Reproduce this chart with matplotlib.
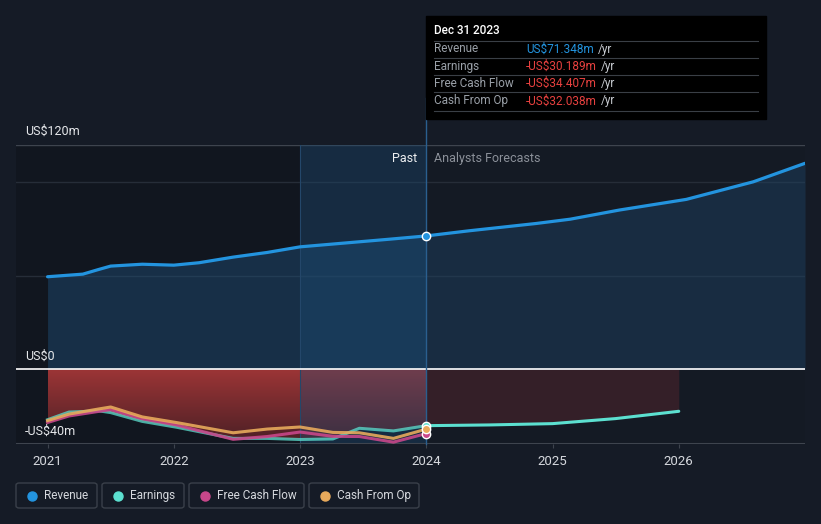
import matplotlib.pyplot as plt
import numpy as np
from matplotlib.colors import LinearSegmentedColormap
from matplotlib.patches import FancyBboxPatch, Rectangle
from matplotlib.lines import Line2D

plt.rcParams['font.family'] = ['Roboto', 'DejaVu Sans']

# Revenue (US$m), past and analyst forecast
rev_past_x = [2021.0, 2021.28, 2021.4, 2021.5, 2021.75, 2022.0, 2022.2, 2022.47, 2022.74, 2023.0, 2023.26, 2023.71, 2024.0]
rev_past_y = [49.5, 50.9, 53.3, 55.2, 56.2, 55.7, 57.0, 60.0, 62.5, 65.5, 67.0, 69.6, 71.35]
rev_fc_x = [2024.0, 2024.34, 2024.87, 2025.14, 2025.53, 2026.06, 2026.59, 2027.0]
rev_fc_y = [71.35, 74.1, 78.0, 80.3, 85.2, 90.9, 100.3, 110.2]

# Earnings / cash flows (US$m)
neg_x = [2021.0, 2021.17, 2021.41, 2021.5, 2021.75, 2022.02, 2022.47, 2022.74, 2023.0, 2023.26, 2023.47, 2023.74, 2024.0]
earn_y = [-27.0, -22.9, -22.3, -23.2, -27.9, -31.0, -37.0, -37.0, -37.6, -37.3, -31.6, -33.0, -30.19]
fcf_y = [-28.5, -25.0, -22.5, -21.6, -26.5, -29.8, -37.5, -36.0, -33.6, -35.9, -36.0, -39.0, -34.41]
cfo_y = [-27.5, -24.0, -21.2, -20.2, -25.5, -28.5, -34.0, -32.0, -30.9, -33.8, -34.0, -37.0, -32.04]
earn_fc_x = [2024.0, 2024.5, 2025.0, 2025.5, 2026.0]
earn_fc_y = [-30.19, -29.8, -29.1, -26.4, -22.5]

years = [2021, 2022, 2023, 2024, 2025, 2026]

BG = '#151b26'
C_REV = '#2394df'
C_EARN = '#5ce0d0'
C_FCF = '#c8478a'
C_CFO = '#e8aa5c'

fig = plt.figure(figsize=(8.21, 5.24), dpi=100, facecolor=BG)
ax = fig.add_axes([16 / 821, 80 / 524, 789 / 821, 299 / 524])
ax.set_facecolor('#141a24')

# darker past region and highlighted last year
ax.axvspan(2020.75, 2023.0, color='#0c1016', alpha=0.35, lw=0, zorder=0)
ax.axvspan(2023.0, 2024.0, color='#1a4d78', alpha=0.35, lw=0, zorder=4)
ax.axvline(2023.0, color='#24476a', lw=0.8, zorder=4)

# grid
for v in [50, 100]:
    ax.axhline(v, color='#262d38', lw=1, zorder=1)
ax.axhline(120, color='#3e444e', lw=1, zorder=1)

# revenue area
ax.fill_between(rev_past_x, 0, rev_past_y, color='#1f4f78', alpha=0.45, lw=0, zorder=2)
ax.fill_between(rev_fc_x, 0, rev_fc_y, color='#1f4466', alpha=0.45, lw=0, zorder=2)

# red gradient for past losses
poly = ax.fill_between(neg_x, 0, earn_y, color='none', lw=0, zorder=3)
cmap = LinearSegmentedColormap.from_list('red', ['#4a1f25', '#9c3536'])
grad = np.linspace(0, 1, 200).reshape(-1, 1)
im = ax.imshow(grad, cmap=cmap, origin='lower', aspect='auto',
               extent=[2021.0, 2024.0, -40, 0], zorder=3)
im.set_clip_path(poly.get_paths()[0], transform=ax.transData)
ax.fill_between(earn_fc_x, 0, earn_fc_y, color='#3a2129', alpha=0.85, lw=0, zorder=3)
ax.set_xlim(2020.75, 2027.0)
ax.set_ylim(-40, 120)

ax.axhline(0, color='white', lw=1.2, zorder=6)
ax.axhline(-40, color='#3e444e', lw=1.5, zorder=6)

# lines
ax.plot(rev_past_x, rev_past_y, color=C_REV, lw=2.3, zorder=7, solid_capstyle='round', solid_joinstyle='round')
ax.plot(rev_fc_x, rev_fc_y, color=C_REV, lw=2.3, zorder=7, solid_capstyle='round', solid_joinstyle='round')
ax.plot(neg_x, earn_y, color=C_EARN, lw=2.2, alpha=0.75, zorder=7, solid_joinstyle='round')
ax.plot(neg_x, fcf_y, color=C_FCF, lw=2.2, alpha=0.9, zorder=7, solid_joinstyle='round')
ax.plot(neg_x, cfo_y, color=C_CFO, lw=2.2, alpha=0.9, zorder=7, solid_joinstyle='round')
ax.plot(earn_fc_x, earn_fc_y, color=C_EARN, lw=2.2, zorder=7, solid_capstyle='round', solid_joinstyle='round')

# markers at the last reported date
ax.plot([2024.0], [rev_past_y[-1]], 'o', ms=6, mfc=C_REV, mec='white', mew=1, zorder=9)
ax.plot([2024.0], [earn_y[-1]], 'o', ms=6, mfc=C_EARN, mec='white', mew=1, zorder=9)
ax.plot([2024.0], [fcf_y[-1]], 'o', ms=6, mfc=C_FCF, mec='white', mew=1, zorder=9)
ax.plot([2024.0], [cfo_y[-1]], 'o', ms=6, mfc=C_CFO, mec='white', mew=1, zorder=9)

# tooltip vertical line, running up to the box
ax.add_line(Line2D([2024.0, 2024.0], [-40, 145], color='#2a5f8f', lw=1, zorder=8, clip_on=False))

# axes styling
for s in ax.spines.values():
    s.set_visible(False)
ax.set_yticks([])
ax.set_xticks(years)
ax.set_xticklabels([str(y) for y in years], color='#d5d8dd', fontsize=9.5)
ax.tick_params(axis='x', length=3, color='#3e444e', pad=5)

fig.text(25 / 821, 1 - 131 / 524, 'US$120m', color='#e6e8eb', fontsize=9, va='center')
fig.text(25 / 821, 1 - 356 / 524, 'US$0', color='#e6e8eb', fontsize=9, va='center')
fig.text(25 / 821, 1 - 431 / 524, '-US$40m', color='#e6e8eb', fontsize=9, va='center')

ax.text(2023.93, 113, 'Past', color='#eceef0', fontsize=9, ha='right', va='center', zorder=10)
ax.text(2024.06, 113, 'Analysts Forecasts', color='#8b9099', fontsize=9, ha='left', va='center', zorder=10)

# tooltip box
fig.patches.append(Rectangle((426 / 821, 1 - 119 / 524), 340 / 821, 103 / 524,
                             transform=fig.transFigure, color='black', zorder=20))
fig.text(434 / 821, 1 - 31 / 524, 'Dec 31 2023', color='white', fontsize=8.5,
         fontweight='medium', va='center', zorder=21)
rows = [('Revenue', 'US$71.348m', C_REV),
        ('Earnings', '-US$30.189m', '#e8413f'),
        ('Free Cash Flow', '-US$34.407m', '#e8413f'),
        ('Cash From Op', '-US$32.038m', '#e8413f')]
renderer = fig.canvas.get_renderer()
for i, (lab, val, col) in enumerate(rows):
    yy = 49 + i * 17.3
    fig.add_artist(Line2D([434 / 821, 758 / 821], [1 - (yy - 8.5) / 524] * 2,
                          color='#3a3f46', lw=0.8, zorder=21))
    fig.text(434 / 821, 1 - yy / 524, lab, color='#9aa0a8', fontsize=8.5, va='center', zorder=21)
    t = fig.text(526 / 821, 1 - yy / 524, val, color=col, fontsize=8.5, va='center', zorder=21)
    x_end = t.get_window_extent(renderer).x1
    fig.text((x_end + 4) / 821, 1 - yy / 524, '/yr', color='#c8ccd2', fontsize=8.5, va='center', zorder=21)
fig.add_artist(Line2D([434 / 821, 758 / 821], [1 - 111 / 524] * 2, color='#3a3f46', lw=0.8, zorder=21))

# legend chips
legend = [('Revenue', C_REV, 16, 97), ('Earnings', C_EARN, 102, 184),
          ('Free Cash Flow', C_FCF, 189, 304), ('Cash From Op', C_CFO, 309, 419)]
for lab, col, x0, x1 in legend:
    fig.patches.append(FancyBboxPatch((x0 / 821, 1 - 508 / 524), (x1 - x0) / 821, 25 / 524,
                                      boxstyle='round,pad=0,rounding_size=0.004',
                                      transform=fig.transFigure, fc='none', ec='#3a404a', lw=1))
    fig.add_artist(Line2D([(x0 + 16) / 821], [1 - 495.5 / 524], marker='o', ms=6.5,
                          color=col, mec=col, ls='none'))
    fig.text((x0 + 28) / 821, 1 - 495.5 / 524, lab, color='#d5d8dd', fontsize=8.5, va='center')

fig.savefig('out.png', dpi=100, facecolor=BG)
